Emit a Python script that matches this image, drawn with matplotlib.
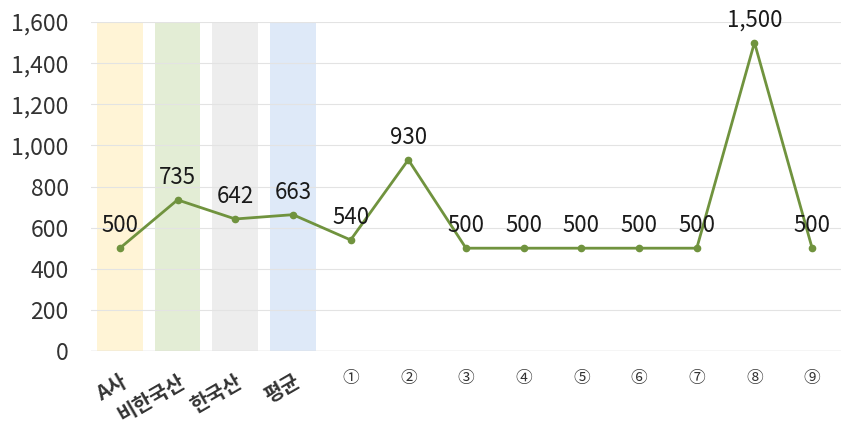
import numpy as np
import matplotlib.pyplot as plt
from matplotlib.ticker import FuncFormatter

plt.rcParams['font.family'] = ['Noto Sans CJK KR', 'DejaVu Sans']

categories = ['A사', '비한국산', '한국산', '평균', '①', '②', '③', '④', '⑤', '⑥', '⑦', '⑧', '⑨']
values = [500, 735, 642, 663, 540, 930, 500, 500, 500, 500, 500, 1500, 500]
band_colors = ['#FFF4D6', '#E3EDD5', '#EDEDED', '#DEE9F8']

fig = plt.figure(figsize=(8.42, 4.25), dpi=100)
ax = fig.add_axes([91 / 842, 74 / 425, 750 / 842, 329 / 425])

x = np.arange(len(categories))

# shaded columns behind the first four categories
for i, c in enumerate(band_colors):
    ax.bar(x[i], 1600, width=0.79, color=c, zorder=0)

ax.plot(x, values, color='#70933E', linewidth=2, marker='o', markersize=4.5, zorder=3)

for xi, v in zip(x, values):
    ax.annotate(f'{v:,}', (xi, v), xytext=(0, 8), textcoords='offset points',
                ha='center', va='bottom', fontsize=16, color='#1a1a1a', zorder=4)

ax.set_xlim(-0.5, len(categories) - 0.5)
ax.set_ylim(0, 1600)
ax.set_yticks(range(0, 1601, 200))
ax.yaxis.set_major_formatter(FuncFormatter(lambda v, p: f'{int(v):,}'))
ax.grid(axis='y', color='#E3E3E3', linewidth=0.8, zorder=0)
ax.set_axisbelow(True)
for s in ax.spines.values():
    s.set_visible(False)
ax.axhline(0, color='#D9D9D9', linewidth=1, zorder=1)

ax.tick_params(axis='both', length=0, colors='#333333')
ax.tick_params(axis='y', labelsize=16.5, pad=16)
ax.set_xticks(x)
ax.set_xticklabels(categories)
for i, lab in enumerate(ax.get_xticklabels()):
    if i < 4:
        lab.set_rotation(30)
        lab.set_ha('right')
        lab.set_rotation_mode('anchor')
        lab.set_fontsize(14.5)
        lab.set_fontweight('bold')
    else:
        lab.set_fontsize(12)
ax.tick_params(axis='x', pad=14)

fig.savefig('out.png', dpi=100)
